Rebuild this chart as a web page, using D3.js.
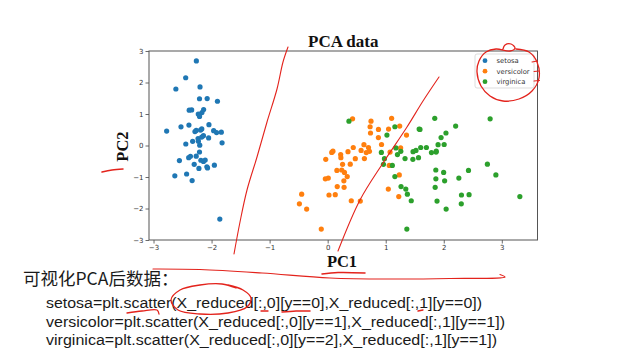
<!DOCTYPE html>
<html>
<head>
<meta charset="utf-8">
<script src="https://cdn.jsdelivr.net/npm/d3@7"></script>
<style>
  body { margin: 0; background: #fff; }
  svg { display: block; }
  .tick text { font-family: "DejaVu Sans", sans-serif; font-size: 7px; fill: #333; }
</style>
</head>
<body>
<div id="chart"></div>
<script>
// PCA of the (standardised) iris data, first two components
const setosaX = [-2.265, -2.081, -2.364, -2.299, -2.390, -2.076, -2.444, -2.233, -2.335, -2.184,
  -2.166, -2.326, -2.218, -2.633, -2.199, -2.262, -2.208, -2.190, -1.899, -2.343,
  -1.914, -2.207, -2.774, -1.819, -2.227, -1.952, -2.051, -2.169, -2.140, -2.265,
  -2.140, -1.832, -2.615, -2.446, -2.110, -2.208, -2.045, -2.527, -2.430, -2.170,
  -2.286, -1.858, -2.554, -1.964, -2.137, -2.070, -2.385, -2.394, -2.229, -2.204]
const setosaY = [0.480, -0.674, -0.342, -0.597, 0.647, 1.489, 0.048, 0.223, -1.115, -0.469,
  1.044, 0.133, -0.729, -0.962, 1.860, 2.686, 1.484, 0.489, 1.405, 1.128,
  0.409, 0.924, 0.458, 0.086, 0.137, -0.626, 0.242, 0.527, 0.313, -0.338,
  -0.505, 0.424, 1.794, 2.151, -0.460, -0.206, 0.662, 0.592, -0.904, 0.269,
  0.442, -2.337, -0.479, 0.472, 1.142, -0.711, 1.120, -0.386, 0.998, 0.009]

const versicolorX = [1.102, 0.731, 1.241, 0.407, 1.075, 0.389, 0.747, -0.487, 0.928, 0.011,
  -0.110, 0.441, 0.562, 0.720, -0.033, 0.875, 0.350, 0.159, 1.225, 0.165,
  0.738, 0.476, 1.234, 0.633, 0.703, 0.874, 1.257, 1.358, 0.665, -0.040,
  0.131, 0.023, 0.242, 1.061, 0.224, 0.429, 1.049, 1.045, 0.070, 0.283,
  0.279, 0.625, 0.337, -0.362, 0.289, 0.091, 0.228, 0.576, -0.448, 0.257]
const versicolorY = [0.863, 0.595, 0.616, -1.754, -0.208, -0.593, 0.773, -1.852, 0.032, -1.034,
  -2.654, -0.063, -1.765, -0.186, -0.439, 0.509, -0.196, -0.792, -1.622, -1.303,
  0.397, -0.417, -0.933, -0.416, -0.063, 0.251, -0.077, 0.331, -0.226, -1.059,
  -1.562, -1.572, -0.777, -0.634, -0.288, 0.846, 0.522, -1.383, -0.220, -1.329,
  -1.120, 0.025, -0.988, -2.019, -0.856, -0.181, -0.385, -0.155, -1.544, -0.599]

const virginicaX = [1.845, 1.158, 2.205, 1.440, 1.868, 2.752, 0.367, 2.302, 2.007, 2.260,
  1.364, 1.603, 1.884, 1.260, 1.468, 1.590, 1.471, 2.426, 3.311, 1.264,
  2.038, 0.978, 2.898, 1.333, 1.701, 1.954, 1.175, 1.021, 1.788, 1.864,
  2.436, 2.305, 1.863, 1.114, 1.202, 2.799, 1.576, 1.346, 0.925, 1.852,
  2.015, 1.902, 1.158, 2.041, 1.998, 1.871, 1.565, 1.521, 1.373, 0.961]
// the plotted code takes PC2 of class y==1 here, so the green points reuse those heights
const virginicaY = [0.863, 0.595, 0.616, -1.754, -0.208, -0.593, 0.773, -1.852, 0.032, -1.034,
  -2.654, -0.063, -1.765, -0.186, -0.439, 0.509, -0.196, -0.792, -1.622, -1.303,
  0.397, -0.417, -0.933, -0.416, -0.063, 0.251, -0.077, 0.331, -0.226, -1.059,
  -1.562, -1.572, -0.777, -0.634, -0.288, 0.846, 0.522, -1.383, -0.220, -1.329,
  -1.120, 0.025, -0.988, -2.019, -0.856, -0.181, -0.385, -0.155, -1.544, -0.599]

const seriesNames = ['setosa', 'versicolor', 'virginica']
const seriesColors = ['#1f77b4', '#ff7f0e', '#2ca02c']
const xTicks = [-3, -2, -1, 0, 1, 2, 3]
const yTicks = [-3, -2, -1, 0, 1, 2, 3]

const captionLine = '可视化PCA后数据：'
const codeLines = [
  'setosa=plt.scatter(X_reduced[:,0][y==0],X_reduced[:,1][y==0])',
  'versicolor=plt.scatter(X_reduced[:,0][y==1],X_reduced[:,1][y==1])',
  'virginica=plt.scatter(X_reduced[:,0][y==2],X_reduced[:,1][y==1])',
]
const codeWidths = [436, 459, 451]

// hand drawn pen marks on the slide (pixel space)
const redStrokes = [
  { w: 1.1, pts: [[288, 47], [283, 62], [277, 89], [267, 122], [257, 157], [247, 190], [240, 222], [234, 254]] },
  { w: 1.1, pts: [[439, 77], [423, 101], [407, 127], [383, 163], [360, 200], [338, 251]] },
  { w: 1.3, pts: [[503, 49], [505, 45], [511, 44], [515, 48], [510, 51], [496, 49], [486, 52], [479, 61], [477, 72], [481, 86], [490, 96], [503, 101], [519, 99], [532, 91], [539, 78], [537, 62], [529, 52], [516, 49]] },
  { w: 1.1, pts: [[532, 62], [537.5, 61]] },
  { w: 1.1, pts: [[534, 71.5], [539, 71]] },
  { w: 1.1, pts: [[534, 81], [539.5, 80.5]] },
  { w: 1.5, pts: [[102, 172], [112, 170], [123, 169]] },
  { w: 1.5, pts: [[322, 274], [338, 272.5], [365, 273]] },
  { w: 1.2, pts: [[153, 269], [200, 269.5], [262, 273], [330, 278], [393, 279], [450, 278.5], [505, 277], [500, 274.5]] },
  { w: 1.3, pts: [[236, 288], [222, 284], [200, 285], [180, 290], [171, 300], [178, 310], [200, 314], [228, 313], [247, 307], [251, 298], [243, 290], [228, 285]] },
  { w: 1.3, pts: [[127, 313], [142, 311], [157, 310], [159, 314]] },
  { w: 1.3, pts: [[261, 311], [268, 311]] },
  { w: 1.5, pts: [[282, 312], [296, 311], [310, 311]] },
  { w: 1.3, pts: [[418, 311], [423, 310]] },
]

const width = 624
const height = 364
const plot = { left: 149, right: 537.5, top: 51, bottom: 240 }

const svg = d3.select('#chart')
  .append('svg')
  .attr('width', width)
  .attr('height', height)

svg.append('rect')
  .attr('width', width)
  .attr('height', height)
  .attr('fill', '#fff')

const x = d3.scaleLinear().domain([-3.078, 3.615]).range([plot.left, plot.right])
const y = d3.scaleLinear().domain([-3, 3]).range([plot.bottom, plot.top])

const xAxis = svg.append('g')
  .attr('transform', `translate(0,${plot.bottom})`)
  .call(d3.axisBottom(x).tickValues(xTicks).tickSize(3.5).tickPadding(2).tickFormat(d3.format('d')))
const yAxis = svg.append('g')
  .attr('transform', `translate(${plot.left},0)`)
  .call(d3.axisLeft(y).tickValues(yTicks).tickSize(3.5).tickPadding(2).tickFormat(d3.format('d')))

for (const ax of [xAxis, yAxis]) {
  ax.select('.domain').remove()
  ax.selectAll('.tick line').attr('stroke', '#444').attr('stroke-width', 0.8)
}

svg.append('rect')
  .attr('x', plot.left)
  .attr('y', plot.top)
  .attr('width', plot.right - plot.left)
  .attr('height', plot.bottom - plot.top)
  .attr('fill', 'none')
  .attr('stroke', '#555')
  .attr('stroke-width', 1)

const groups = [
  d3.zip(setosaX, setosaY),
  d3.zip(versicolorX, versicolorY),
  d3.zip(virginicaX, virginicaY),
]

groups.forEach((pts, i) => {
  svg.append('g')
    .selectAll('circle')
    .data(pts)
    .join('circle')
    .attr('cx', d => x(d[0]))
    .attr('cy', d => y(d[1]))
    .attr('r', 2.6)
    .attr('fill', seriesColors[i])
})

// legend
const legend = svg.append('g').attr('transform', 'translate(475,54)')
legend.append('rect')
  .attr('width', 59)
  .attr('height', 34)
  .attr('rx', 2)
  .attr('fill', '#fff')
  .attr('fill-opacity', 0.8)
  .attr('stroke', '#d4d4d4')
  .attr('stroke-width', 0.8)
seriesNames.forEach((name, i) => {
  const row = legend.append('g').attr('transform', `translate(0,${6.7 + i * 10.5})`)
  row.append('circle').attr('cx', 10).attr('r', 2.4).attr('fill', seriesColors[i])
  row.append('text')
    .attr('x', 21.5)
    .attr('dy', '0.35em')
    .style('font-family', '"DejaVu Sans", sans-serif')
    .style('font-size', '6.8px')
    .attr('fill', '#333')
    .text(name)
})

// titles
svg.append('text')
  .attr('x', (plot.left + plot.right) / 2)
  .attr('y', 46.5)
  .attr('text-anchor', 'middle')
  .style('font-family', '"Liberation Serif", serif')
  .style('font-weight', 'bold')
  .style('font-size', '17px')
  .attr('fill', '#111')
  .text('PCA data')

svg.append('text')
  .attr('x', 342)
  .attr('y', 266.5)
  .attr('text-anchor', 'middle')
  .style('font-family', '"Liberation Serif", serif')
  .style('font-weight', 'bold')
  .style('font-size', '16.5px')
  .attr('fill', '#111')
  .text('PC1')

svg.append('text')
  .attr('transform', 'translate(127.5,146.5) rotate(-90)')
  .attr('text-anchor', 'middle')
  .style('font-family', '"Liberation Serif", serif')
  .style('font-weight', 'bold')
  .style('font-size', '16.5px')
  .attr('fill', '#111')
  .text('PC2')

// slide text under the chart
svg.append('text')
  .attr('x', 23)
  .attr('y', 284.5)
  .style('font-family', '"Noto Sans CJK SC", sans-serif')
  .style('font-size', '17.5px')
  .attr('fill', '#1a1a1a')
  .text(captionLine)

codeLines.forEach((line, i) => {
  svg.append('text')
    .attr('x', 46)
    .attr('y', 308.3 + i * 18.4)
    .attr('textLength', codeWidths[i])
    .attr('lengthAdjust', 'spacingAndGlyphs')
    .style('font-family', '"Liberation Sans", sans-serif')
    .style('font-size', '15.5px')
    .attr('fill', '#1a1a1a')
    .text(line)
})

const pen = d3.line().curve(d3.curveCatmullRom.alpha(0.5))
svg.append('g')
  .selectAll('path')
  .data(redStrokes)
  .join('path')
  .attr('d', d => pen(d.pts))
  .attr('fill', 'none')
  .attr('stroke', '#e3231c')
  .attr('stroke-width', d => d.w)
  .attr('stroke-linecap', 'round')
</script>
</body>
</html>
